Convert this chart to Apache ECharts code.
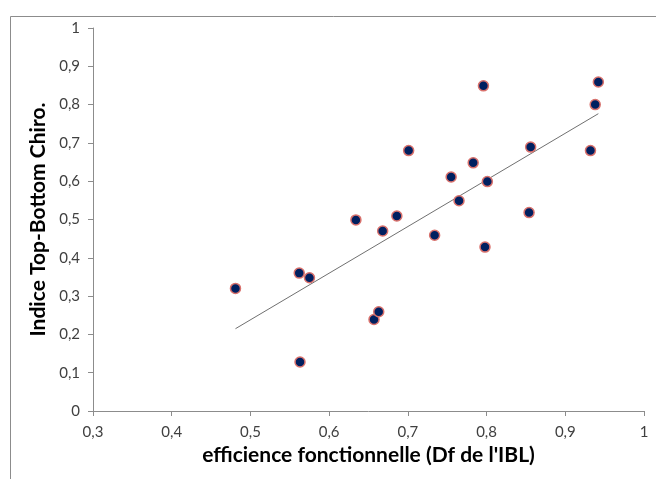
<!DOCTYPE html>
<html>
<head>
<meta charset="utf-8">
<style>
html,body{margin:0;padding:0;background:#fff;}
#chart{width:656px;height:479px;}
</style>
<script src="https://cdn.jsdelivr.net/npm/echarts@6/dist/echarts.min.js"></script>
</head>
<body>
<div id="chart"></div>
<script>
// Data
var efficience = [0.481, 0.562, 0.575, 0.563, 0.634, 0.657, 0.663, 0.668, 0.686, 0.701, 0.734,
                  0.755, 0.765, 0.783, 0.796, 0.798, 0.801, 0.856, 0.854, 0.932, 0.938, 0.942];
var indiceTB   = [0.32, 0.36, 0.348, 0.128, 0.499, 0.239, 0.259, 0.47, 0.509, 0.68, 0.459,
                  0.611, 0.549, 0.648, 0.849, 0.428, 0.599, 0.689, 0.518, 0.68, 0.80, 0.859];
var xTicks = [0.3, 0.4, 0.5, 0.6, 0.7, 0.8, 0.9, 1];
var yTicks = [0, 0.1, 0.2, 0.3, 0.4, 0.5, 0.6, 0.7, 0.8, 0.9, 1];

var pts = efficience.map(function (x, i) { return [x, indiceTB[i]]; });

// Linear trend (least squares) spanning the data range
var n = pts.length, sx = 0, sy = 0, sxx = 0, sxy = 0;
pts.forEach(function (p) { sx += p[0]; sy += p[1]; sxx += p[0] * p[0]; sxy += p[0] * p[1]; });
var slope = (n * sxy - sx * sy) / (n * sxx - sx * sx);
var icpt = (sy - slope * sx) / n;
var xmin = Math.min.apply(null, efficience), xmax = Math.max.apply(null, efficience);
var trend = [[xmin, icpt + slope * xmin], [xmax, icpt + slope * xmax]];

function fmt(v) { return (Math.round(v * 10) / 10).toString().replace('.', ','); }

var font = 'Lato, "Open Sans", sans-serif';
var chart = echarts.init(document.getElementById('chart'), null, { renderer: 'canvas' });
chart.setOption({
  animation: false,
  backgroundColor: '#ffffff',
  graphic: [{
    type: 'rect', left: 8, top: 14, silent: true, z: -1,
    shape: { width: 720, height: 520 },
    style: { fill: 'none', stroke: '#8c8c8c', lineWidth: 1 }
  }],
  grid: { left: 93, right: 12, top: 28, bottom: 68, containLabel: false },
  xAxis: {
    type: 'value', min: xTicks[0], max: xTicks[xTicks.length - 1], interval: 0.1,
    name: "efficience fonctionnelle (Df de l'IBL)",
    nameLocation: 'middle', nameGap: 32,
    nameTextStyle: { fontFamily: font, fontSize: 21, fontWeight: 'bold', color: '#000' },
    axisLine: { show: true, lineStyle: { color: '#8c8c8c', width: 1 } },
    axisTick: { show: true, inside: false, length: 5, lineStyle: { color: '#8c8c8c' } },
    axisLabel: { fontFamily: font, fontSize: 15, color: '#404040', margin: 14, formatter: fmt },
    splitLine: { show: false }
  },
  yAxis: {
    type: 'value', min: yTicks[0], max: yTicks[yTicks.length - 1], interval: 0.1,
    name: 'Indice Top-Bottom Chiro.',
    nameLocation: 'middle', nameGap: 38, nameRotate: 90,
    nameTextStyle: { fontFamily: font, fontSize: 21, fontWeight: 'bold', color: '#000' },
    axisLine: { show: true, lineStyle: { color: '#8c8c8c', width: 1 } },
    axisTick: { show: true, inside: false, length: 5, lineStyle: { color: '#8c8c8c' } },
    axisLabel: { fontFamily: font, fontSize: 15, color: '#404040', margin: 13, formatter: fmt },
    splitLine: { show: false }
  },
  series: [{
    type: 'line', data: trend, symbol: 'none', silent: true, z: 1,
    lineStyle: { color: '#707070', width: 1 }
  }, {
    type: 'scatter', data: pts, symbol: 'circle', symbolSize: 10, z: 3,
    itemStyle: { color: '#002060', borderColor: '#d9716c', borderWidth: 1.5, opacity: 1 }
  }]
});
</script>
</body>
</html>
